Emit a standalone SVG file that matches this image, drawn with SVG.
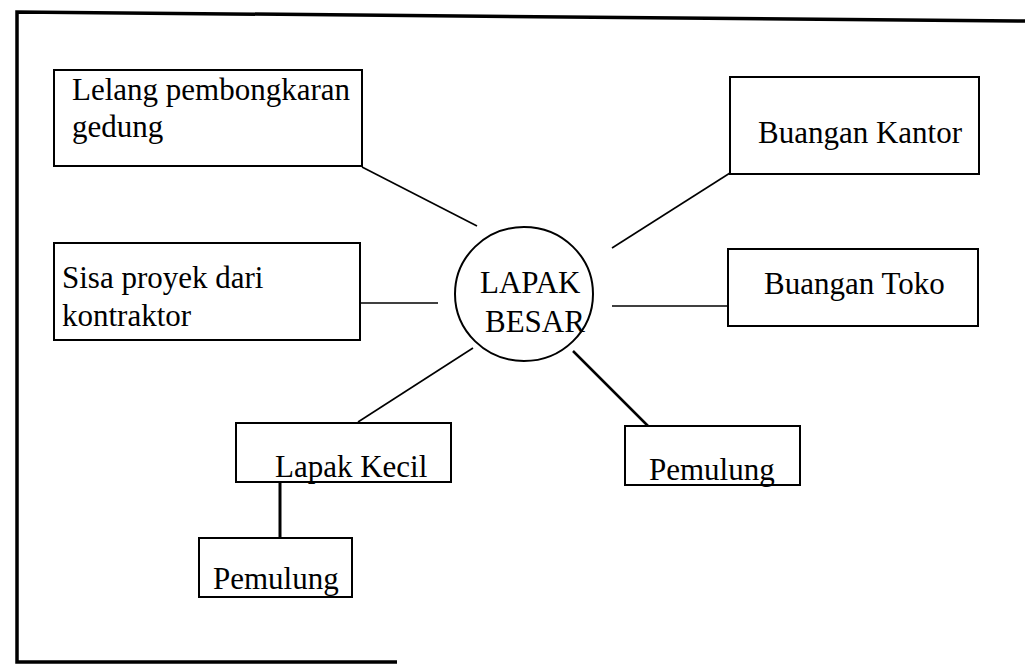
<svg xmlns="http://www.w3.org/2000/svg" width="1025" height="664" viewBox="0 0 1025 664">
  <style>
    .box { fill: none; stroke: #000; stroke-width: 2; }
    .lbl { font-family: "Liberation Serif", "Times New Roman", serif; font-size: 31px; fill: #000; }
    .link { stroke: #000; stroke-width: 1.6; fill: none; }
    .frame { stroke: #000; stroke-width: 3.5; fill: none; }
  </style>
  <rect width="1025" height="664" fill="#fff"/>

  <!-- outer frame (right edge falls outside the page) -->
  <g id="frame">
    <polyline class="frame" points="1025,21 17,12 17,662 397,662"/>
  </g>

  <!-- connectors -->
  <g id="connectors">
    <line class="link" x1="362" y1="167" x2="477" y2="226"/>
    <line class="link" x1="360" y1="303" x2="438" y2="303"/>
    <line class="link" x1="730" y1="173" x2="612" y2="248"/>
    <line class="link" x1="612" y1="306" x2="728" y2="306"/>
    <line class="link" x1="358" y1="422" x2="473" y2="348"/>
    <line class="link" x1="573" y1="351" x2="648" y2="426" style="stroke-width:2.5"/>
    <line class="link" x1="280" y1="482" x2="280" y2="538" style="stroke-width:3"/>
  </g>

  <g id="lapak-besar">
    <ellipse class="box" cx="524" cy="294" rx="69" ry="67"/>
    <text class="lbl" x="480" y="293">LAPAK</text>
    <text class="lbl" x="485" y="332">BESAR</text>
  </g>

  <g id="lelang">
    <rect class="box" x="54" y="70" width="308" height="96"/>
    <text class="lbl" x="72" y="100">Lelang pembongkaran</text>
    <text class="lbl" x="72" y="137">gedung</text>
  </g>

  <g id="sisa-proyek">
    <rect class="box" x="54" y="243" width="306" height="97"/>
    <text class="lbl" x="62" y="288">Sisa proyek dari</text>
    <text class="lbl" x="62" y="326">kontraktor</text>
  </g>

  <g id="buangan-kantor">
    <rect class="box" x="730" y="77" width="249" height="97"/>
    <text class="lbl" x="758" y="143">Buangan Kantor</text>
  </g>

  <g id="buangan-toko">
    <rect class="box" x="728" y="249" width="250" height="77"/>
    <text class="lbl" x="764" y="294">Buangan Toko</text>
  </g>

  <g id="lapak-kecil">
    <rect class="box" x="236" y="423" width="215" height="59"/>
    <text class="lbl" x="275" y="477">Lapak Kecil</text>
  </g>

  <g id="pemulung-kanan">
    <rect class="box" x="625" y="426" width="175" height="59"/>
    <text class="lbl" x="649" y="480">Pemulung</text>
  </g>

  <g id="pemulung-kiri">
    <rect class="box" x="199" y="538" width="153" height="59"/>
    <text class="lbl" x="213" y="589">Pemulung</text>
  </g>
</svg>
